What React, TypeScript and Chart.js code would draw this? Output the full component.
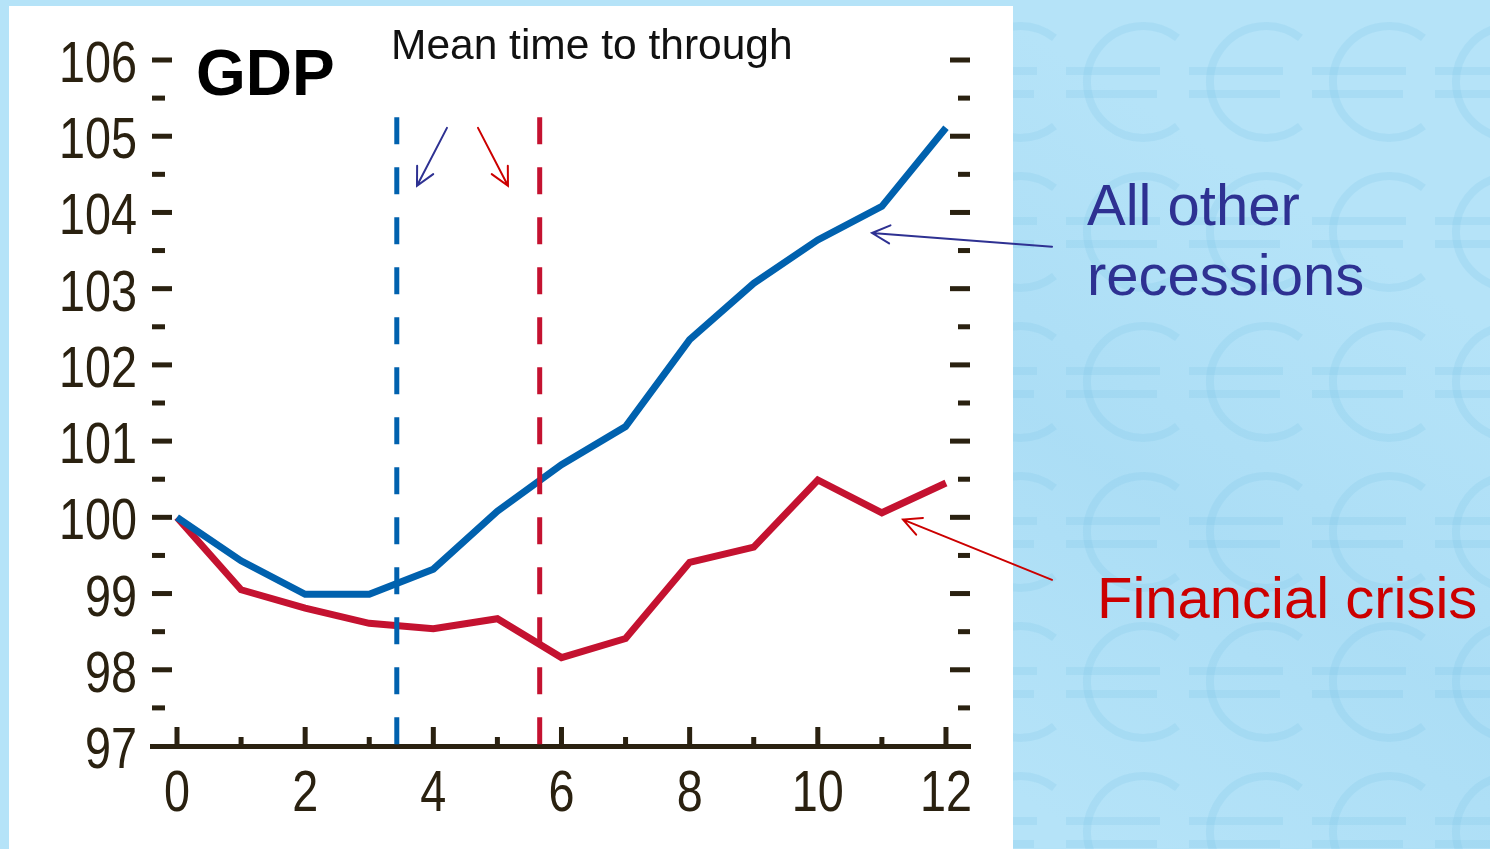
import React, { useEffect, useRef } from "react";
import { Chart, registerables } from "chart.js";

Chart.register(...registerables);

// ---- data ----
const months = [0, 1, 2, 3, 4, 5, 6, 7, 8, 9, 10, 11, 12];
const allOtherRecessions = [100.0, 99.43, 98.99, 98.99, 99.32, 100.08, 100.69, 101.19, 102.33, 103.07, 103.64, 104.08, 105.11];
const financialCrisis = [100.0, 99.05, 98.81, 98.61, 98.54, 98.67, 98.16, 98.41, 99.41, 99.61, 100.49, 100.06, 100.45];
const yMajorTicks = [97, 98, 99, 100, 101, 102, 103, 104, 105, 106];
const yMinorTicks = [97.5, 98.5, 99.5, 100.5, 101.5, 102.5, 103.5, 104.5, 105.5];
const xMajorTicks = [0, 2, 4, 6, 8, 10, 12];
const xMinorTicks = [1, 3, 5, 7, 9, 11];
const meanTroughOther = 3.43;
const meanTroughFinancial = 5.66;
const troughLineTop = 105.25;

const INK = "#2a2110";
const BLUE = "#0061ae";
const RED = "#c41230";
const NOTE_BLUE = "#2e3192";
const NOTE_RED = "#cc0000";
const SANS = "'Liberation Sans', Arial, sans-serif";
const NUM_SIZE = 57;
const NUM_SQUEEZE = 0.82;

function drawArrow(ctx: CanvasRenderingContext2D, x1: number, y1: number, x2: number, y2: number, color: string) {
  const ang = Math.atan2(y2 - y1, x2 - x1);
  const head = 20;
  const spread = 0.47;
  ctx.save();
  ctx.strokeStyle = color;
  ctx.lineWidth = 2;
  ctx.lineCap = "round";
  ctx.beginPath();
  ctx.moveTo(x1, y1);
  ctx.lineTo(x2, y2);
  ctx.moveTo(x2 - head * Math.cos(ang - spread), y2 - head * Math.sin(ang - spread));
  ctx.lineTo(x2, y2);
  ctx.lineTo(x2 - head * Math.cos(ang + spread), y2 - head * Math.sin(ang + spread));
  ctx.stroke();
  ctx.restore();
}

function drawEuro(ctx: CanvasRenderingContext2D, cx: number, cy: number) {
  const r = 56;
  ctx.beginPath();
  ctx.arc(cx, cy, r, (-52 * Math.PI) / 180, (52 * Math.PI) / 180, true);
  ctx.stroke();
  ctx.beginPath();
  ctx.moveTo(cx - 77, cy - 11);
  ctx.lineTo(cx + 17, cy - 11);
  ctx.moveTo(cx - 77, cy + 12);
  ctx.lineTo(cx + 14, cy + 12);
  ctx.stroke();
}

const decorPlugin = {
  id: "decor",
  beforeDraw(chart: any) {
    const ctx: CanvasRenderingContext2D = chart.ctx;
    const { width, height } = chart;
    ctx.save();
    ctx.fillStyle = "#b5e3f8";
    ctx.fillRect(0, 0, width, height);
    // soft diagonal band
    const g = ctx.createLinearGradient(1100, 849, 1450, 300);
    g.addColorStop(0, "rgba(160, 215, 242, 0.0)");
    g.addColorStop(0.5, "rgba(160, 215, 242, 0.45)");
    g.addColorStop(1, "rgba(160, 215, 242, 0.0)");
    ctx.fillStyle = g;
    ctx.fillRect(1013, 0, width - 1013, height);
    // faint euro pattern
    ctx.strokeStyle = "rgba(118, 194, 232, 0.2)";
    ctx.lineWidth = 8;
    for (let r = 0; r < 6; r++) {
      for (let c = -1; c < 4; c++) {
        drawEuro(ctx, 1143 + 123 * c, 82 + 150 * r);
      }
    }
    // white panel
    ctx.fillStyle = "#ffffff";
    ctx.fillRect(9, 6, 1004, height - 6);
    ctx.restore();
  },
  afterDatasetsDraw(chart: any) {
    const ctx: CanvasRenderingContext2D = chart.ctx;
    const { left, right, bottom } = chart.chartArea;
    const xs = chart.scales.x;
    const ys = chart.scales.y;
    ctx.save();
    ctx.fillStyle = INK;
    // y ticks, left and right, inside
    yMajorTicks.forEach((v) => {
      if (v === ys.min) return;
      const py = ys.getPixelForValue(v);
      ctx.fillRect(left, py - 2.5, 20, 5);
      ctx.fillRect(right - 20, py - 2.5, 20, 5);
    });
    yMinorTicks.forEach((v) => {
      const py = ys.getPixelForValue(v);
      ctx.fillRect(left, py - 2.5, 13, 5);
      ctx.fillRect(right - 12, py - 2.5, 12, 5);
    });
    // x ticks upward
    xMajorTicks.forEach((v) => {
      const px = xs.getPixelForValue(v);
      ctx.fillRect(px - 2.5, bottom - 19, 5, 19);
    });
    xMinorTicks.forEach((v) => {
      const px = xs.getPixelForValue(v);
      ctx.fillRect(px - 2.5, bottom - 9, 5, 9);
    });
    // mean time to trough dashed lines
    const vlines: [number, string][] = [
      [meanTroughOther, BLUE],
      [meanTroughFinancial, RED],
    ];
    vlines.forEach(([v, col]) => {
      const px = xs.getPixelForValue(v);
      ctx.strokeStyle = col;
      ctx.lineWidth = 5;
      ctx.setLineDash([27, 23]);
      ctx.beginPath();
      ctx.moveTo(px, ys.getPixelForValue(troughLineTop));
      ctx.lineTo(px, bottom - 1);
      ctx.stroke();
    });
    ctx.restore();
  },
  afterDraw(chart: any) {
    const ctx: CanvasRenderingContext2D = chart.ctx;
    const xs = chart.scales.x;
    const ys = chart.scales.y;
    const { left, bottom } = chart.chartArea;
    const P = (x: number, y: number): [number, number] => [xs.getPixelForValue(x), ys.getPixelForValue(y)];

    // condensed tick labels from the scales' own ticks
    ctx.save();
    ctx.fillStyle = INK;
    ctx.font = `${NUM_SIZE}px ${SANS}`;
    ctx.textBaseline = "alphabetic";
    ys.ticks.forEach((t: any) => {
      const py = ys.getPixelForValue(t.value);
      ctx.save();
      ctx.translate(left - 15, py + 22);
      ctx.scale(NUM_SQUEEZE, 1);
      ctx.textAlign = "right";
      ctx.fillText(String(t.value), 0, 0);
      ctx.restore();
    });
    xs.ticks.forEach((t: any) => {
      const px = xs.getPixelForValue(t.value);
      ctx.save();
      ctx.translate(px, bottom + 65);
      ctx.scale(NUM_SQUEEZE, 1);
      ctx.textAlign = "center";
      ctx.fillText(String(t.value), 0, 0);
      ctx.restore();
    });
    ctx.restore();

    ctx.save();
    ctx.textAlign = "left";
    ctx.textBaseline = "alphabetic";
    ctx.fillStyle = "#000";
    ctx.font = `bold 64px ${SANS}`;
    ctx.fillText("GDP", 196, 95);
    ctx.fillStyle = "#111";
    ctx.font = `42.5px ${SANS}`;
    ctx.fillText("Mean time to through", 391, 59);
    ctx.fillStyle = NOTE_BLUE;
    ctx.font = `58px ${SANS}`;
    ctx.fillText("All other", 1087, 225);
    ctx.fillText("recessions", 1087, 295);
    ctx.fillStyle = NOTE_RED;
    ctx.fillText("Financial crisis", 1097, 618);
    ctx.restore();

    let a = P(4.213, 105.11), b = P(3.745, 104.35);
    drawArrow(ctx, a[0], a[1], b[0], b[1], NOTE_BLUE);
    a = P(4.697, 105.11); b = P(5.165, 104.35);
    drawArrow(ctx, a[0], a[1], b[0], b[1], NOTE_RED);
    a = P(13.655, 103.55); b = P(10.846, 103.73);
    drawArrow(ctx, a[0], a[1], b[0], b[1], NOTE_BLUE);
    a = P(13.655, 99.18); b = P(11.33, 99.97);
    drawArrow(ctx, a[0], a[1], b[0], b[1], NOTE_RED);
  },
};

export default function App() {
  const ref = useRef<HTMLCanvasElement | null>(null);

  useEffect(() => {
    if (!ref.current) return;
    const chart = new Chart(ref.current, {
      type: "line",
      data: {
        datasets: [
          {
            label: "All other recessions",
            data: months.map((m, i) => ({ x: m, y: allOtherRecessions[i] })),
            borderColor: BLUE,
            borderWidth: 7,
            pointRadius: 0,
            tension: 0,
            fill: false,
          },
          {
            label: "Financial crisis",
            data: months.map((m, i) => ({ x: m, y: financialCrisis[i] })),
            borderColor: RED,
            borderWidth: 7,
            pointRadius: 0,
            tension: 0,
            fill: false,
          },
        ],
      },
      options: {
        animation: false,
        responsive: false,
        devicePixelRatio: 1,
        layout: { padding: { left: 12, right: 520, top: 60, bottom: 13 } },
        plugins: { legend: { display: false }, tooltip: { enabled: false }, title: { display: false } },
        scales: {
          x: {
            type: "linear",
            min: -0.39,
            max: 12.375,
            afterBuildTicks: (scale: any) => {
              scale.ticks = xMajorTicks.map((v) => ({ value: v }));
            },
            afterFit: (scale: any) => {
              scale.height = 90;
            },
            grid: { display: false, drawTicks: false },
            border: { display: true, color: INK, width: 5 },
            ticks: { display: false },
          },
          y: {
            type: "linear",
            min: 97,
            max: 106,
            afterBuildTicks: (scale: any) => {
              scale.ticks = yMajorTicks.map((v) => ({ value: v }));
            },
            afterFit: (scale: any) => {
              scale.width = 140;
            },
            grid: { display: false, drawTicks: false },
            border: { display: false },
            ticks: { display: false },
          },
        },
      },
      plugins: [decorPlugin],
    } as any);
    return () => chart.destroy();
  }, []);

  return (
    <div style={{ position: "fixed", left: 0, top: 0, width: 1490, height: 849, overflow: "hidden" }}>
      <canvas ref={ref} width={1490} height={849} style={{ width: 1490, height: 849, display: "block" }} />
    </div>
  );
}
